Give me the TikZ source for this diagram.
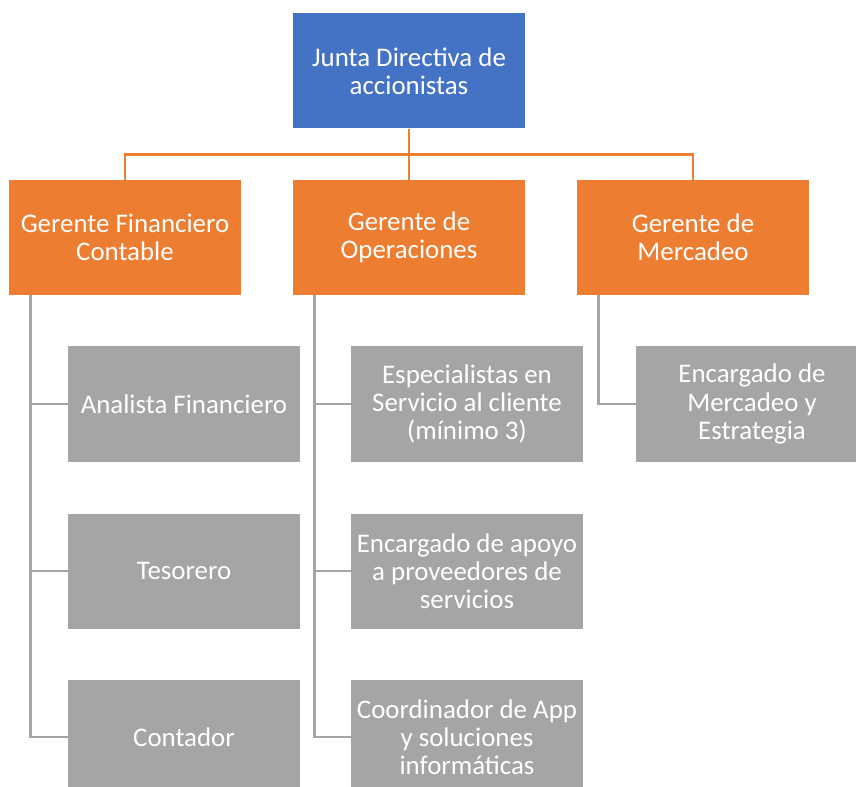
\documentclass[tikz,border=0pt]{standalone}
\usepackage{fontspec}
\setmainfont{Carlito}
\definecolor{juntablue}{HTML}{4472C4}
\definecolor{gerorange}{HTML}{ED7D31}
\definecolor{staffgray}{HTML}{A5A5A5}
\tikzset{
  orgbox/.style={minimum width=4.64cm, minimum height=2.3cm, inner sep=0pt, align=center, text=white, font=\fontsize{15.3}{16}\selectfont},
  junta/.style={orgbox, fill=juntablue},
  gerente/.style={orgbox, fill=gerorange},
  staff/.style={orgbox, fill=staffgray},
  orangeline/.style={draw=gerorange, line width=1.6pt},
  grayline/.style={draw=staffgray, line width=1.6pt}
}

\begin{document}
\begin{tikzpicture}
\useasboundingbox (0,0) rectangle (17.12,-15.74);
\clip (0,0) rectangle (17.12,-15.74);
\node[junta] (junta) at (8.18,-1.42) {Junta Directiva de\\accionistas};
\node[gerente] (gfin) at (2.5,-4.75) {Gerente Financiero\\Contable};
\node[gerente] (gop) at (8.18,-4.75) {Gerente de\\Operaciones};
\node[gerente] (gmer) at (13.86,-4.75) {Gerente de\\Mercadeo};

\node[staff] (analista) at (3.68,-8.08) {Analista Financiero};
\node[staff] (tesorero) at (3.68,-11.42) {Tesorero};
\node[staff] (contador) at (3.68,-14.74) {Contador};
\node[staff] (especialistas) at (9.34,-8.08) {Especialistas en\\Servicio al cliente\\(mínimo 3)};
\node[staff] (apoyo) at (9.34,-11.42) {Encargado de apoyo\\a proveedores de\\servicios};
\node[staff] (coordinador) at (9.34,-14.74) {Coordinador de App\\y soluciones\\informáticas};
\node[staff] (estrategia) at (15.04,-8.08) {Encargado de\\Mercadeo y\\Estrategia};

% junta -> gerentes
\coordinate (bus) at ([yshift=-0.52cm]junta.south);
\draw[orangeline] (junta.south) -- (bus);
\draw[orangeline] (bus) -| (gfin.north);
\draw[orangeline] (bus) -| (gmer.north);
\draw[orangeline] (bus) -- (gop.north);

% gerentes -> staff
\draw[grayline] ([xshift=0.44cm]gfin.south west) |- (analista.west);
\draw[grayline] ([xshift=0.44cm]gfin.south west) |- (tesorero.west);
\draw[grayline] ([xshift=0.44cm]gfin.south west) |- (contador.west);
\draw[grayline] ([xshift=0.44cm]gop.south west) |- (especialistas.west);
\draw[grayline] ([xshift=0.44cm]gop.south west) |- (apoyo.west);
\draw[grayline] ([xshift=0.44cm]gop.south west) |- (coordinador.west);
\draw[grayline] ([xshift=0.44cm]gmer.south west) |- (estrategia.west);
\end{tikzpicture}
\end{document}
